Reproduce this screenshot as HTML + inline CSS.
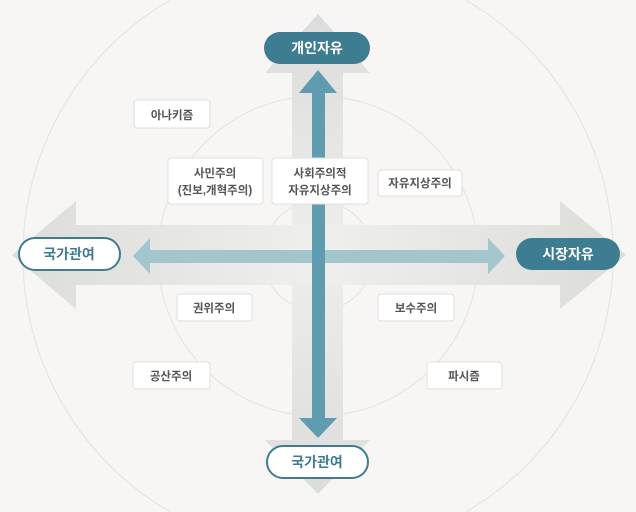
<!DOCTYPE html>
<html><head><meta charset="utf-8"><style>
html,body{margin:0;padding:0;background:#f7f6f4;width:636px;height:512px;overflow:hidden;}
svg{display:block}
text{font-family:"Liberation Sans","Noto Sans CJK KR",sans-serif;}
</style></head><body>
<svg width="636" height="512" viewBox="0 0 636 512" xmlns="http://www.w3.org/2000/svg">
<defs>
<linearGradient id="gv" x1="0" y1="0" x2="0" y2="1">
<stop offset="0" stop-color="#dcdcdb"/><stop offset="0.5" stop-color="#eeeeec"/><stop offset="1" stop-color="#dcdcdb"/></linearGradient>
<linearGradient id="gh" x1="0" y1="0" x2="1" y2="0">
<stop offset="0" stop-color="#dcdcdb"/><stop offset="0.5" stop-color="#efefed"/><stop offset="1" stop-color="#dcdcdb"/></linearGradient>
</defs>
<rect width="636" height="512" fill="#f7f6f4"/>
<g fill="none" stroke="#e6e5e2" stroke-width="1.2">
<path d="M169.4,0.5 A296,296 0 0 0 169.4,511.5"/>
<path d="M466.6,0.5 A296,296 0 0 1 466.6,511.5"/>
<circle cx="318" cy="256" r="160"/>
<circle cx="318" cy="256" r="55"/>
</g>
<polygon points="318,14 370,73 343,73 343,440 370,440 318,494 265,440 292,440 292,73 265,73" fill="url(#gv)"/>
<polygon points="12,255 76,201 76,225 560,225 560,201 626,255 560,309 560,285 76,285 76,309" fill="url(#gh)"/>
<polygon points="133,256 150,238 150,250 488,250 488,238 505,256 488,274 488,263 150,263 150,274" fill="#a3c5ce"/>
<polygon points="318,70 337,93 325,93 325,418 337,418 318,438 299,418 312,418 312,93 299,93" fill="#5f9cb0"/>
<rect x="264" y="32" width="106" height="32" rx="16" fill="#3e7d91"/>
<text x="317" y="53" text-anchor="middle" font-size="14" font-weight="bold" fill="#fff">개인자유</text>
<rect x="516" y="238" width="104" height="32" rx="16" fill="#3e7d91"/>
<text x="568" y="259" text-anchor="middle" font-size="14" font-weight="bold" fill="#fff">시장자유</text>
<rect x="19" y="238" width="101" height="32" rx="16" fill="#fff" stroke="#3e7d91" stroke-width="2"/>
<text x="69" y="259" text-anchor="middle" font-size="14" font-weight="bold" fill="#3e7d91">국가관여</text>
<rect x="267" y="446" width="101" height="32" rx="16" fill="#fff" stroke="#3e7d91" stroke-width="2"/>
<text x="317" y="467" text-anchor="middle" font-size="14" font-weight="bold" fill="#3e7d91">국가관여</text>
<g fill="#fff" stroke="#e0dfdc" stroke-width="1">
<rect x="134" y="100" width="76" height="28" rx="3"/>
<rect x="168" y="158" width="95" height="46" rx="3"/>
<rect x="272" y="158" width="96" height="46" rx="3"/>
<rect x="378" y="170" width="84" height="26" rx="3"/>
<rect x="177" y="294" width="75" height="27" rx="3"/>
<rect x="378" y="294" width="76" height="27" rx="3"/>
<rect x="133" y="362" width="77" height="27" rx="3"/>
<rect x="427" y="362" width="75" height="27" rx="3"/>
</g>
<g font-size="11.5" fill="#555" text-anchor="middle" font-weight="bold">
<text x="172" y="119">아나키즘</text>
<text x="215" y="177">사민주의</text>
<text x="215" y="194">(진보,개혁주의)</text>
<text x="320" y="177">사회주의적</text>
<text x="320" y="194">자유지상주의</text>
<text x="420" y="187">자유지상주의</text>
<text x="214" y="312">권위주의</text>
<text x="416" y="312">보수주의</text>
<text x="171" y="380">공산주의</text>
<text x="464" y="380">파시즘</text>
</g>
</svg>
</body></html>
